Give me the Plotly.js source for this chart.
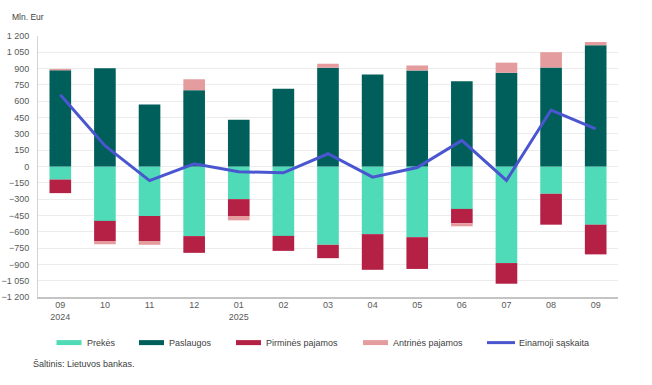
<!DOCTYPE html>
<html>
<head>
<meta charset="utf-8">
<script src="https://cdn.plot.ly/plotly-3.0.1.min.js"></script>
<style>
  html, body { margin: 0; padding: 0; background: #ffffff; }
  #chart { width: 652px; height: 385px; }
</style>
</head>
<body>
<div id="chart"></div>
<script>
// ---- Data (Mln. Eur) ----
const months = ["09<br>2024", "10", "11", "12", "01<br>2025", "02", "03", "04", "05", "06", "07", "08", "09"];
const prekes = [-120, -500, -455, -640, -300, -638, -720, -622, -650, -390, -888, -251, -535];
const paslaugos = [885, 904, 571, 702, 430, 715, 908, 846, 883, 785, 862, 910, 1115];
const pirmines = [-125, -185, -230, -154, -155, -138, -123, -328, -292, -132, -190, -284, -273];
const antrines = [12, -30, -35, 100, -40, 0, 37, 0, 46, -28, 93, 141, 30];
const einamoji = [660, 192, -130, 25, -48, -58, 117, -98, -10, 240, -128, 519, 345];
const yTickVals = [-1200, -1050, -900, -750, -600, -450, -300, -150, 0, 150, 300, 450, 600, 750, 900, 1050, 1200];
const yTickText = ["\u22121 200", "\u22121 050", "\u2212900", "\u2212750", "\u2212600", "\u2212450", "\u2212300", "\u2212150", "0", "150", "300", "450", "600", "750", "900", "1 050", "1 200"];
const seriesNames = ["Prekės", "Paslaugos", "Pirminės pajamos", "Antrinės pajamos", "Einamoji sąskaita"];

// ---- Styles ----
const colors = ["#4fdbb7", "#005f5a", "#b42145", "#e49c9f", "#4a56d0"];
const FONT = "Liberation Sans, Arial, sans-serif";

// plot area in pixels
const L = 38, R = 618, T = 35.5, B = 297;
const px = x => (x - L) / (R - L);
const py = y => (B - y) / (B - T);

const barData = [prekes, paslaugos, pirmines, antrines];
const traces = barData.map((vals, i) => ({
  type: "bar",
  x: months,
  y: vals,
  name: seriesNames[i],
  marker: { color: colors[i], line: { width: 0 } },
  hoverinfo: "x+y+name"
}));
traces.push({
  type: "scatter",
  mode: "lines",
  x: months,
  y: einamoji,
  name: seriesNames[4],
  line: { color: colors[4], width: 3 }
});

// custom legend
const legendItems = [
  { sx: 56.5, ex: 81.5, tx: 85, kind: "bar" },
  { sx: 139, ex: 164, tx: 167, kind: "bar" },
  { sx: 236, ex: 261, tx: 264, kind: "bar" },
  { sx: 363, ex: 388, tx: 391, kind: "bar" },
  { sx: 487, ex: 515, tx: 517, kind: "line" }
];
const legY = 342.7;
const shapes = [];
const annotations = [];
legendItems.forEach((it, i) => {
  if (it.kind === "bar") {
    shapes.push({
      type: "rect", xref: "paper", yref: "paper",
      x0: px(it.sx), x1: px(it.ex), y0: py(legY + 2.5), y1: py(legY - 2.5),
      fillcolor: colors[i], line: { width: 0 }
    });
  } else {
    shapes.push({
      type: "line", xref: "paper", yref: "paper",
      x0: px(it.sx), x1: px(it.ex), y0: py(legY), y1: py(legY),
      line: { color: colors[i], width: 3 }
    });
  }
  annotations.push({
    xref: "paper", yref: "paper", x: px(it.tx), y: py(legY),
    xanchor: "left", yanchor: "middle", showarrow: false,
    text: seriesNames[i], font: { family: FONT, size: 9, color: "#404040" }
  });
});
annotations.push({
  xref: "paper", yref: "paper", x: px(10), y: py(16),
  xanchor: "left", yanchor: "middle", showarrow: false,
  text: "Mln. Eur", font: { family: FONT, size: 8.5, color: "#404040" }
});
annotations.push({
  xref: "paper", yref: "paper", x: px(31), y: py(364),
  xanchor: "left", yanchor: "middle", showarrow: false,
  text: "Šaltinis: Lietuvos bankas.", font: { family: FONT, size: 9, color: "#404040" }
});

const layout = {
  width: 652, height: 385,
  margin: { l: L, r: 652 - R, t: T, b: 385 - B, pad: 0 },
  paper_bgcolor: "#ffffff", plot_bgcolor: "#ffffff",
  barmode: "relative",
  bargap: 0.515,
  showlegend: false,
  font: { family: FONT, size: 9, color: "#595959" },
  xaxis: {
    type: "category",
    showline: true, linecolor: "#c4c4c4", linewidth: 2,
    showgrid: false, ticks: "", zeroline: false,
    tickfont: { family: FONT, size: 9, color: "#595959" },
    ticklabelstandoff: -2,
    fixedrange: true
  },
  yaxis: {
    range: [-1200, 1200],
    tickvals: yTickVals, ticktext: yTickText,
    showgrid: true, gridcolor: "#ececec", gridwidth: 1,
    zeroline: false,
    showline: true, linecolor: "#d4d4d4", linewidth: 1,
    ticks: "", ticklabelstandoff: 6,
    tickfont: { family: FONT, size: 9, color: "#595959" },
    fixedrange: true
  },
  shapes: shapes,
  annotations: annotations
};

Plotly.newPlot("chart", traces, layout, { displayModeBar: false, staticPlot: true });
</script>
</body>
</html>
